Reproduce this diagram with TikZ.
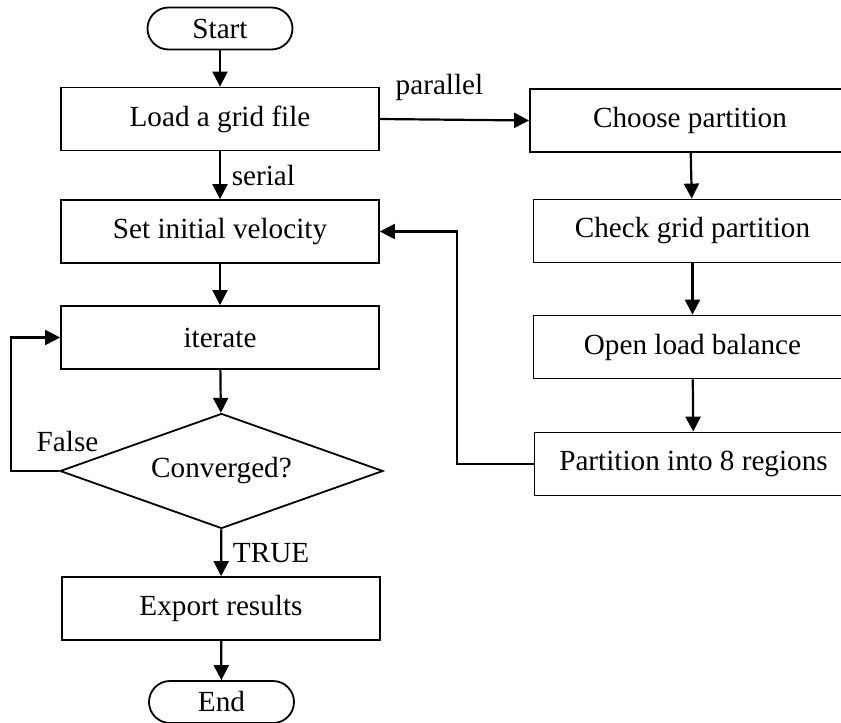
\documentclass[tikz,border=0pt]{standalone}
\usepackage{fontspec}
\setmainfont{Liberation Serif}
\usetikzlibrary{arrows.meta,positioning,shapes.geometric}

\tikzset{
  stepbox/.style={draw, line width=0.9pt, minimum width=159pt, minimum height=31.5pt, inner sep=0pt},
  termbox/.style={draw, line width=0.9pt, rounded corners=10.5pt, minimum width=72.5pt, minimum height=21pt, inner sep=0pt},
  decbox/.style={draw, line width=0.9pt, diamond, aspect=2.8, minimum width=161.5pt, minimum height=57.5pt, inner sep=0pt},
  flow/.style={line width=1.1pt, -{Triangle[length=7.5pt,width=7.5pt]}}
}

\begin{document}
\begin{tikzpicture}[x=0.5pt, y=-0.5pt, font=\fontsize{14.6}{17}\selectfont]
        \useasboundingbox (0,0) rectangle (841,723);

        % serial column
        \node[termbox] (start) at (220,28.5) {Start};
        \node[stepbox] (load) at (220,119) {Load a grid file};
        \node[stepbox] (setvel) at (220,231.5) {Set initial velocity};
        \node[stepbox] (iter) at (220,337.5) {iterate};
        \node[decbox] (conv) at (221.5,471) {Converged?};
        \node[stepbox] (export) at (221,608.5) {Export results};
        \node[termbox] (end) at (221.5,702) {End};

        % parallel column
        \node[stepbox, minimum width=160pt] (choose) at (690,120.5) {Choose partition};
        \node[stepbox] (check) at (692.5,231) {Check grid partition};
        \node[stepbox] (open) at (692.5,347) {Open load balance};
        \node[stepbox] (part) at (693.5,464) {Partition into 8 regions};

        % labels
        \node (lblfalse) at (67.5,442) {False};
        \node (lblpar) at (439.5,87) {parallel};

        \draw[flow] (start) -- (load);
        \draw[flow] (load) -- node[right, xshift=2pt] {serial} (setvel);
        \draw[flow] (setvel) -- (iter);
        \draw[flow] (iter) -- (conv);
        \draw[flow] (conv) -- node[right, xshift=2pt] {TRUE} (export);
        \draw[flow] (export) -- (end);

        \draw[flow] (load.east) -- (choose.west);
        \draw[flow] (choose) -- (check);
        \draw[flow] (check) -- (open);
        \draw[flow] (open) -- (part);

        % loops back
        \draw[flow] (conv.west) -- (11,471) |- (iter.west);
        \draw[flow] (part.west) -- (457,464) |- (setvel.east);
      \end{tikzpicture}
\end{document}
